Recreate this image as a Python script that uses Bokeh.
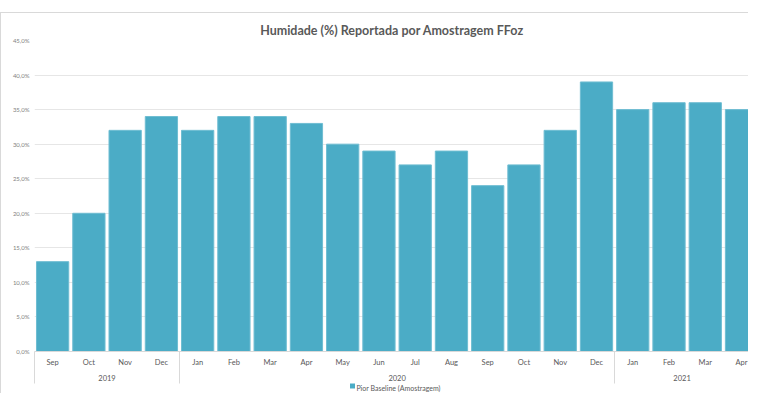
from bokeh.plotting import figure
from bokeh.models import Range1d, LinearAxis, FixedTicker, ColumnDataSource
from bokeh.embed import file_html
from bokeh.resources import INLINE

# ---- data ----
title_text = "Humidade (%) Reportada por Amostragem FFoz"
series_name = "Pior Baseline (Amostragem)"
months = ["Sep", "Oct", "Nov", "Dec",
          "Jan", "Feb", "Mar", "Apr", "May", "Jun", "Jul", "Aug", "Sep", "Oct", "Nov", "Dec",
          "Jan", "Feb", "Mar", "Apr"]
years = ["2019", "2020", "2021"]
months_per_year = [4, 12, 4]
humidity = [13, 20, 32, 34,
            32, 34, 34, 33, 30, 29, 27, 29, 24, 27, 32, 39,
            35, 36, 36, 35]
y_ticks = [0, 5, 10, 15, 20, 25, 30, 35, 40, 45]
y_tick_labels = ["0,0%", "5,0%", "10,0%", "15,0%", "20,0%", "25,0%",
                 "30,0%", "35,0%", "40,0%", "45,0%"]

# visible part of the category axis (the reference is cropped on the right)
x_end = 19.72

BAR = "#4BACC6"
TXT = "#595959"
GRID = "#e6e6e6"
SEP = "#d9d9d9"
FONT = "Lato"

xs = [i + 0.5 for i in range(len(months))]
src = ColumnDataSource(dict(x=xs, top=humidity, month=months))

bounds = [0]
for n in months_per_year:
    bounds.append(bounds[-1] + n)
year_centers = [(bounds[i] + min(bounds[i + 1], x_end)) / 2 for i in range(len(years))]

p = figure(width=748, height=381, x_range=Range1d(0, x_end), y_range=Range1d(0, 45),
           output_backend="svg", toolbar_location=None,
           min_border_left=33, min_border_right=0, min_border_top=27, min_border_bottom=0)
p.styles = {"border-left": "1px solid #d9d9d9", "border-top": "1px solid #d9d9d9",
            "position": "relative", "top": "12px"}

p.title.text = title_text
p.title.align = "center"
p.title.text_font = FONT
p.title.text_font_size = "12.5px"
p.title.text_font_style = "bold"
p.title.text_color = TXT
p.title.standoff = 6

r = p.vbar(x="x", top="top", width=0.89, source=src, fill_color=BAR,
           line_color="#6fbdd2", line_width=1)


def plain_axis(ax, standoff, size, color=TXT):
    ax.axis_line_color = None
    ax.major_tick_line_color = None
    ax.major_tick_out = 0
    ax.major_tick_in = 0
    ax.minor_tick_line_color = None
    ax.minor_tick_out = 0
    ax.minor_tick_in = 0
    ax.major_label_standoff = standoff
    ax.major_label_text_font = FONT
    ax.major_label_text_font_size = size
    ax.major_label_text_color = color


# month axis (next to the frame)
xa = p.xaxis[0]
xa.ticker = FixedTicker(ticks=xs)
xa.major_label_overrides = {x: m for x, m in zip(xs, months)}
plain_axis(xa, 6, "7.5px")
xa.axis_line_color = SEP

# year axis
yr = LinearAxis(ticker=FixedTicker(ticks=year_centers),
                major_label_overrides={c: y for c, y in zip(year_centers, years)})
plain_axis(yr, 5, "7.5px")
p.add_layout(yr, "below")

# group separators (ticks reaching up to the frame)
sep = LinearAxis(ticker=FixedTicker(ticks=bounds[:-1]),
                 major_label_overrides={b: "" for b in bounds[:-1]})
plain_axis(sep, 0, "0px")
sep.major_tick_line_color = SEP
sep.major_tick_in = 32
p.add_layout(sep, "below")

# legend row: coloured square (minor tick) + series name (tick label)
leg_text_x = 10.04
leg_box_x = leg_text_x - 1.27
leg = LinearAxis(ticker=FixedTicker(ticks=[leg_text_x], minor_ticks=[leg_box_x]),
                 major_label_overrides={leg_text_x: series_name})
plain_axis(leg, -5, "7px")
leg.minor_tick_line_color = BAR
leg.minor_tick_line_width = 5
leg.minor_tick_out = 5
leg.minor_tick_in = 0
p.add_layout(leg, "below")

# y axis
ya = p.yaxis[0]
ya.ticker = FixedTicker(ticks=y_ticks)
ya.major_label_overrides = {t: l for t, l in zip(y_ticks, y_tick_labels)}
plain_axis(ya, 5, "6px", "#7f7f7f")

p.xgrid.visible = False
p.ygrid.ticker = FixedTicker(ticks=y_ticks)
p.ygrid.grid_line_color = GRID
p.outline_line_color = None

open("out.html", "w").write(file_html(p, INLINE))
